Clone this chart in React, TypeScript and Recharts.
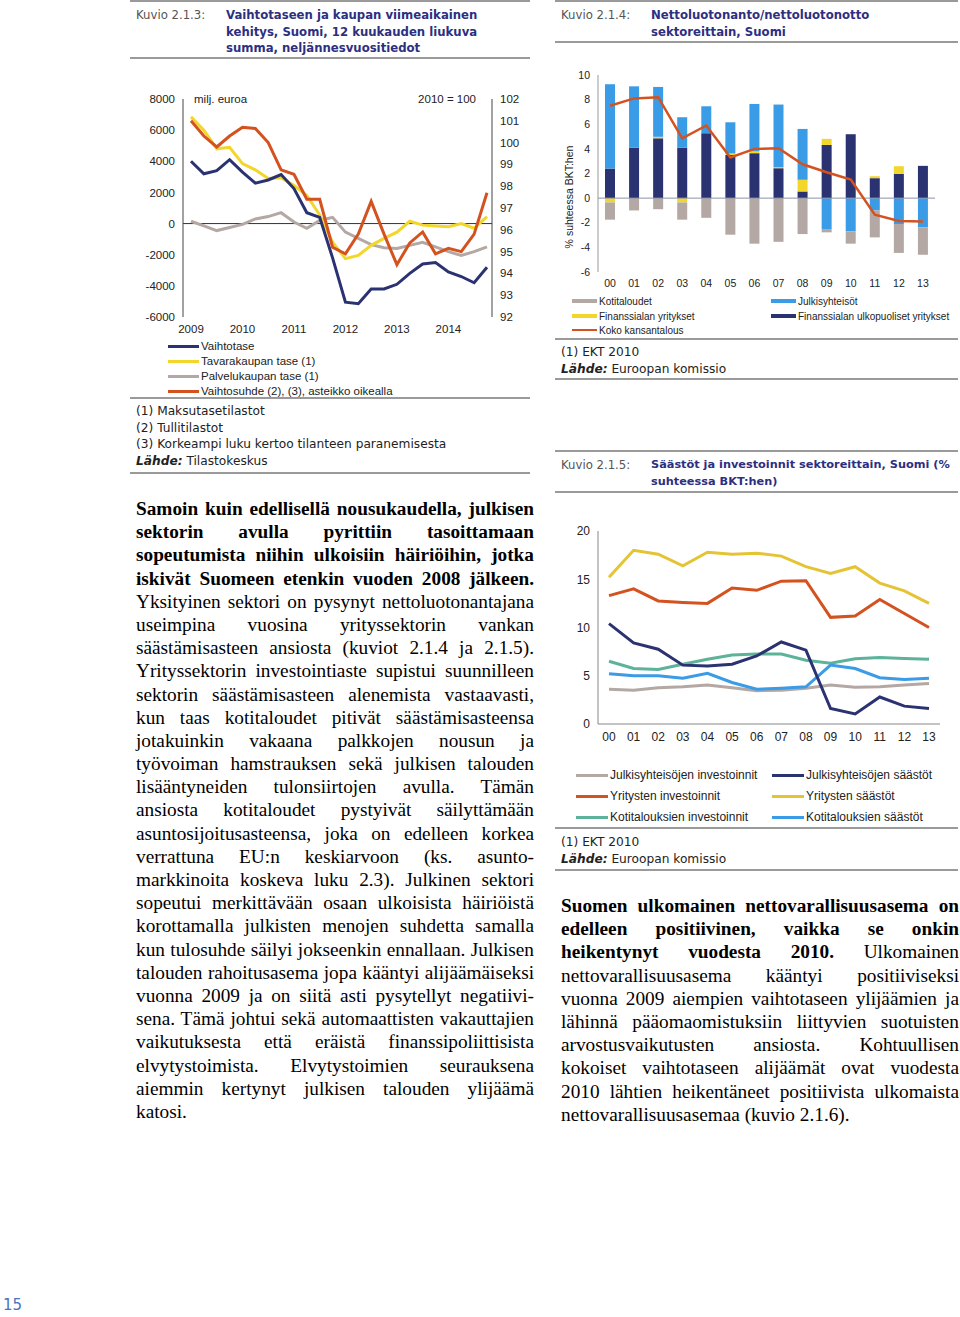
import React from 'react'
import { LineChart, ComposedChart, Line, Bar, XAxis, YAxis, ReferenceLine } from 'recharts'

// Kuvio 2.1.3 — quarterly, 12 month rolling sums
const QUARTERS = [
  '2009Q1', '2009Q2', '2009Q3', '2009Q4', '2010Q1', '2010Q2', '2010Q3', '2010Q4',
  '2011Q1', '2011Q2', '2011Q3', '2011Q4', '2012Q1', '2012Q2', '2012Q3', '2012Q4',
  '2013Q1', '2013Q2', '2013Q3', '2013Q4', '2014Q1', '2014Q2', '2014Q3', '2014Q4',
]
const vaihtotase = [4000, 3200, 3400, 4100, 3300, 2600, 2800, 3150, 2250, 700, 400, -2200, -5050, -5150, -4200, -4200, -3900, -3200, -2600, -2500, -3100, -3400, -3800, -2800]
const tavarakauppa = [6850, 6000, 4800, 4900, 3850, 3450, 2900, 2950, 2450, 1800, 550, -1200, -2250, -2050, -1400, -950, -550, 150, -100, -150, -200, 0, -300, 450]
const palvelukauppa = [150, -150, -450, -250, -50, 300, 450, 700, 100, -300, 200, 400, -550, -950, -1350, -1550, -1600, -1400, -1200, -1500, -1800, -2050, -1800, -1500]
const vaihtosuhde = [101.0, 100.3, 99.8, 100.3, 100.7, 100.65, 100.0, 98.75, 98.55, 97.4, 97.4, 95.2, 94.9, 95.8, 97.3, 95.8, 94.4, 95.4, 95.9, 94.9, 95.15, 95.0, 95.8, 97.7]
const leftTicks = [-6000, -4000, -2000, 0, 2000, 4000, 6000, 8000]
const rightTicks = [92, 93, 94, 95, 96, 97, 98, 99, 100, 101, 102]

// Kuvio 2.1.4 — net lending by sector, % of GDP
const YEARS = ['00', '01', '02', '03', '04', '05', '06', '07', '08', '09', '10', '11', '12', '13']
const ulkopuoliset = [2.4, 4.1, 4.86, 4.1, 5.27, 3.5, 3.65, 2.43, 0.54, 4.32, 5.19, 1.62, 1.97, 2.62]
const finanssiala = [-0.35, 0, 0.12, -0.35, 0, 0.13, 0.15, 0.08, 0.95, 0.49, 0, 0.16, 0.62, 0]
const julkisyhteisot = [6.85, 4.98, 4.05, 2.47, 2.19, 2.53, 3.85, 5.09, 4.13, -2.51, -2.7, -1.0, -2.1, -2.38]
const kotitaloudet = [-1.4, -1.0, -0.9, -1.4, -1.6, -2.97, -3.7, -3.55, -2.92, -0.27, -1.0, -2.19, -2.35, -2.22]
const kokoKansantalous = [7.5, 8.1, 8.2, 4.86, 5.9, 3.3, 4.0, 4.05, 2.75, 2.1, 1.5, -1.35, -1.85, -1.9]
const barTicks = [-6, -4, -2, 0, 2, 4, 6, 8, 10]

// Kuvio 2.1.5 — savings and investment by sector, % of GDP
const julkInvest = [3.6, 3.5, 3.75, 3.85, 4.05, 3.75, 3.45, 3.5, 3.7, 4.05, 3.8, 3.85, 4.05, 4.2]
const julkSaastot = [10.4, 8.4, 7.75, 6.1, 6.0, 6.2, 7.05, 8.5, 7.65, 1.6, 1.05, 2.8, 1.85, 1.6]
const yritInvest = [13.3, 14.0, 12.75, 12.6, 12.5, 14.1, 13.85, 14.8, 14.85, 11.05, 11.2, 12.9, 11.45, 10.0]
const yritSaastot = [15.2, 18.0, 17.6, 16.4, 17.8, 17.6, 17.7, 17.4, 16.3, 15.6, 16.3, 14.6, 13.8, 12.5]
const kotiInvest = [6.5, 5.75, 5.65, 6.2, 6.7, 7.15, 7.25, 7.25, 6.6, 6.3, 6.75, 6.9, 6.8, 6.7]
const kotiSaastot = [5.2, 5.0, 5.0, 4.75, 5.25, 4.3, 3.6, 3.7, 3.85, 6.1, 5.75, 4.8, 4.6, 4.75]
const lineTicks = [0, 5, 10, 15, 20]

const NAVY = '#2b3272'
const YELLOW = '#f2d62a'
const GRAY = '#b3a8a4'
const ORANGE = '#d4521f'
const BLUE = '#3a9be6'
const TEAL = '#5cb39a'
const MUSTARD = '#e4c435'
const TITLE = '#2d2f80'
const RULE = '#9a9a9a'

const SANS = '"Liberation Sans", Arial, sans-serif'
const GOTHIC = '"DejaVu Sans", sans-serif'
const SERIF = '"Liberation Serif", "Times New Roman", serif'

const leftPara = [
  { b: 'Samoin kuin edellisellä nousukaudella, julkisen' },
  { b: 'sektorin avulla pyrittiin tasoittamaan' },
  { b: 'sopeutumista niihin ulkoisiin häiriöihin, jotka' },
  { b: 'iskivät Suomeen etenkin vuoden 2008 jälkeen.' },
  { t: 'Yksityinen sektori on pysynyt nettoluotonantajana' },
  { t: 'useimpina vuosina yrityssektorin vankan' },
  { t: 'säästämisasteen ansiosta (kuviot 2.1.4 ja 2.1.5).' },
  { t: 'Yrityssektorin investointiaste supistui suunnilleen' },
  { t: 'sektorin säästämisasteen alenemista vastaavasti,' },
  { t: 'kun taas kotitaloudet pitivät säästämisasteensa' },
  { t: 'jotakuinkin vakaana palkkojen nousun ja' },
  { t: 'työvoiman hamstrauksen sekä julkisen talouden' },
  { t: 'lisääntyneiden tulonsiirtojen avulla. Tämän' },
  { t: 'ansiosta kotitaloudet pystyivät säilyttämään' },
  { t: 'asuntosijoitusasteensa, joka on edelleen korkea' },
  { t: 'verrattuna EU:n keskiarvoon (ks. asunto-' },
  { t: 'markkinoita koskeva luku 2.3). Julkinen sektori' },
  { t: 'sopeutui merkittävään osaan ulkoisista häiriöistä' },
  { t: 'korottamalla julkisten menojen suhdetta samalla' },
  { t: 'kun tulosuhde säilyi jokseenkin ennallaan. Julkisen' },
  { t: 'talouden rahoitusasema jopa kääntyi alijäämäiseksi' },
  { t: 'vuonna 2009 ja on siitä asti pysytellyt negatiivi-' },
  { t: 'sena. Tämä johtui sekä automaattisten vakauttajien' },
  { t: 'vaikutuksesta että eräistä finanssipoliittisista' },
  { t: 'elvytystoimista. Elvytystoimien seurauksena' },
  { t: 'aiemmin kertynyt julkisen talouden ylijäämä' },
  { t: 'katosi.' },
]

const rightPara = [
  { b: 'Suomen ulkomainen nettovarallisuusasema on' },
  { b: 'edelleen positiivinen, vaikka se onkin' },
  { b: 'heikentynyt vuodesta 2010.', t: 'Ulkomainen' },
  { t: 'nettovarallisuusasema kääntyi positiiviseksi' },
  { t: 'vuonna 2009 aiempien vaihtotaseen ylijäämien ja' },
  { t: 'lähinnä pääomaomistuksiin liittyvien suotuisten' },
  { t: 'arvostusvaikutusten ansiosta. Kohtuullisen' },
  { t: 'kokoiset vaihtotaseen alijäämät ovat vuodesta' },
  { t: '2010 lähtien heikentäneet positiivista ulkomaista' },
  { t: 'nettovarallisuusasemaa (kuvio 2.1.6).' },
]

const Rule = ({ left, top, width }: any) => (
  <div style={{ position: 'absolute', left, top, width, height: 2, background: RULE }} />
)

const Header = ({ left, top, bottom, width, num, lines, size = 11.7 }: any) => (
  <>
    <Rule left={left} top={top} width={width} />
    <div style={{ position: 'absolute', left: left + 6, top: top + 7, fontFamily: GOTHIC, fontSize: 11.7, lineHeight: '16.5px', color: '#555' }}>
      {num}
    </div>
    <div style={{ position: 'absolute', left: left + 96, top: top + 7, fontFamily: GOTHIC, fontSize: size, lineHeight: '16.5px', color: TITLE, fontWeight: 'bold', whiteSpace: 'nowrap' }}>
      {lines.map((l: string, i: number) => <div key={i}>{l}</div>)}
    </div>
    <Rule left={left} top={bottom} width={width} />
  </>
)

const Notes = ({ left, top, lines, source }: any) => (
  <div style={{ position: 'absolute', left, top, fontFamily: GOTHIC, fontSize: 12.2, lineHeight: '16.5px', color: '#222', whiteSpace: 'nowrap' }}>
    {lines.map((l: string, i: number) => <div key={i}>{l}</div>)}
    <div><b><i>Lähde:</i></b> {source}</div>
  </div>
)

const LegendItem = ({ left, top, color, label, thick, len, fontSize }: any) => (
  <div style={{ position: 'absolute', left, top, height: 14, display: 'flex', alignItems: 'center', fontFamily: SANS, fontSize, color: '#222', whiteSpace: 'nowrap' }}>
    <span style={{ display: 'inline-block', width: len, height: thick, background: color, marginRight: 2 }} />
    {label}
  </div>
)

const Justified = ({ lines, left, top }: any) => (
  <div style={{ position: 'absolute', left, top, width: 398, fontFamily: SERIF, fontSize: 19.3, lineHeight: '23.2px', color: '#000' }}>
    {lines.map((ln: any, i: number) => (
      <div
        key={i}
        style={{ height: 23.2, whiteSpace: 'nowrap', textAlign: 'justify', textAlignLast: i === lines.length - 1 ? 'left' : 'justify' } as any}
      >
        {ln.b ? <b>{ln.b}</b> : null}
        {ln.b && ln.t ? ' ' : ''}
        {ln.t || ''}
      </div>
    ))}
  </div>
)

export default function App() {
  const chart1Data = QUARTERS.map((q, i) => ({
    q,
    vaihtotase: vaihtotase[i],
    tavara: tavarakauppa[i],
    palvelu: palvelukauppa[i],
    suhde: vaihtosuhde[i],
  }))

  const chart2Data = YEARS.map((y, i) => ({
    y,
    ulko: ulkopuoliset[i],
    fin: finanssiala[i],
    julk: julkisyhteisot[i],
    koti: kotitaloudet[i],
    koko: kokoKansantalous[i],
  }))

  const chart3Data = YEARS.map((y, i) => ({
    y,
    julkInv: julkInvest[i],
    julkSaa: julkSaastot[i],
    yritInv: yritInvest[i],
    yritSaa: yritSaastot[i],
    kotiInv: kotiInvest[i],
    kotiSaa: kotiSaastot[i],
  }))

  const tick1 = { fontSize: 11.5, fill: '#222', fontFamily: SANS }
  const tick2 = { fontSize: 10.5, fill: '#222', fontFamily: SANS }
  const tick3 = { fontSize: 12, fill: '#222', fontFamily: SANS }

  return (
    <div style={{ position: 'absolute', left: 0, top: 0, width: 960, height: 1317, background: '#fff', overflow: 'hidden' }}>
      {/* ---------- Kuvio 2.1.3 ---------- */}
      <Header
        left={130} top={0} bottom={57} width={400} num="Kuvio 2.1.3:"
        lines={['Vaihtotaseen ja kaupan viimeaikainen', 'kehitys, Suomi, 12 kuukauden liukuva', 'summa, neljännesvuositiedot']}
      />
      <div style={{ position: 'absolute', left: 130, top: 85 }}>
        <LineChart width={400} height={255} data={chart1Data} margin={{ top: 14, right: 3, left: 8, bottom: 3 }} style={{ fontFamily: SANS }}>
          <XAxis dataKey="q" interval={3} tickFormatter={(v: string) => v.slice(0, 4)} axisLine={false} tickLine={false} padding={{ left: 8, right: 5 }} height={20} tick={tick1} />
          <YAxis yAxisId="l" domain={[-6000, 8000]} ticks={leftTicks} interval={0} width={45} axisLine={{ stroke: '#444' }} tickLine={false} tick={tick1} />
          <YAxis yAxisId="r" orientation="right" domain={[92, 102]} ticks={rightTicks} interval={0} width={35} axisLine={{ stroke: '#444' }} tickLine={false} tick={tick1} />
          <ReferenceLine yAxisId="l" y={0} stroke="#333" strokeWidth={1} />
          <Line yAxisId="l" dataKey="palvelu" stroke={GRAY} strokeWidth={3} dot={false} isAnimationActive={false} />
          <Line yAxisId="l" dataKey="tavara" stroke={YELLOW} strokeWidth={3} dot={false} isAnimationActive={false} />
          <Line yAxisId="l" dataKey="vaihtotase" stroke={NAVY} strokeWidth={3} dot={false} isAnimationActive={false} />
          <Line yAxisId="r" dataKey="suhde" stroke={ORANGE} strokeWidth={3} dot={false} isAnimationActive={false} />
        </LineChart>
      </div>
      <div style={{ position: 'absolute', left: 194, top: 93, fontFamily: SANS, fontSize: 11.5, color: '#222' }}>milj. euroa</div>
      <div style={{ position: 'absolute', left: 376, width: 100, textAlign: 'right', top: 93, fontFamily: SANS, fontSize: 11.5, color: '#222' }}>2010 = 100</div>
      <LegendItem left={168} top={339} color={NAVY} label="Vaihtotase" thick={3} len={31} fontSize={11.5} />
      <LegendItem left={168} top={354} color={YELLOW} label="Tavarakaupan tase (1)" thick={3} len={31} fontSize={11.5} />
      <LegendItem left={168} top={369} color={GRAY} label="Palvelukaupan tase (1)" thick={3} len={31} fontSize={11.5} />
      <LegendItem left={168} top={384} color={ORANGE} label="Vaihtosuhde (2), (3), asteikko oikealla" thick={3} len={31} fontSize={11.5} />
      <Rule left={130} top={397} width={400} />
      <Notes left={136} top={403} lines={['(1) Maksutasetilastot', '(2) Tullitilastot', '(3) Korkeampi luku kertoo tilanteen paranemisesta']} source="Tilastokeskus" />
      <Rule left={130} top={472} width={400} />

      <Justified lines={leftPara} left={136} top={497} />

      {/* ---------- Kuvio 2.1.4 ---------- */}
      <Header
        left={555} top={0} bottom={41} width={403} num="Kuvio 2.1.4:"
        lines={['Nettoluotonanto/nettoluotonotto', 'sektoreittain, Suomi']}
      />
      <div style={{ position: 'absolute', left: 555, top: 65 }}>
        <ComposedChart width={400} height={225} data={chart2Data} stackOffset="sign" margin={{ top: 10, right: 20, left: 5, bottom: 0 }} style={{ fontFamily: SANS }}>
          <XAxis dataKey="y" axisLine={false} tickLine={false} height={18} tick={tick2} interval={0} />
          <YAxis domain={[-6, 10]} ticks={barTicks} interval={0} width={38} axisLine={{ stroke: '#999' }} tickLine={false} tick={tick2} />
          <ReferenceLine y={0} stroke="#8d93a8" strokeWidth={1} />
          <Bar dataKey="ulko" stackId="s" fill={NAVY} barSize={10} isAnimationActive={false} />
          <Bar dataKey="fin" stackId="s" fill={YELLOW} barSize={10} isAnimationActive={false} />
          <Bar dataKey="julk" stackId="s" fill={BLUE} barSize={10} isAnimationActive={false} />
          <Bar dataKey="koti" stackId="s" fill={GRAY} barSize={10} isAnimationActive={false} />
          <Line dataKey="koko" stroke={ORANGE} strokeWidth={2.5} dot={false} isAnimationActive={false} />
        </ComposedChart>
      </div>
      <div style={{ position: 'absolute', left: 499, top: 191, width: 140, height: 12, lineHeight: '12px', textAlign: 'center', transform: 'rotate(-90deg)', fontFamily: SANS, fontSize: 10.5, color: '#222' }}>
        % suhteessa BKT:hen
      </div>
      <LegendItem left={572} top={294} color={GRAY} label="Kotitaloudet" thick={4} len={25} fontSize={10} />
      <LegendItem left={572} top={309} color={YELLOW} label="Finanssialan yritykset" thick={4} len={25} fontSize={10} />
      <LegendItem left={572} top={323} color={ORANGE} label="Koko kansantalous" thick={2} len={25} fontSize={10} />
      <LegendItem left={771} top={294} color={BLUE} label="Julkisyhteisöt" thick={4} len={25} fontSize={10} />
      <LegendItem left={771} top={309} color={NAVY} label="Finanssialan ulkopuoliset yritykset" thick={4} len={25} fontSize={10} />
      <Rule left={555} top={338} width={403} />
      <Notes left={561} top={344} lines={['(1) EKT 2010']} source="Euroopan komissio" />
      <Rule left={555} top={378} width={403} />

      {/* ---------- Kuvio 2.1.5 ---------- */}
      <Header
        left={555} top={450} bottom={491} width={403} num="Kuvio 2.1.5:" size={11.3}
        lines={['Säästöt ja investoinnit sektoreittain, Suomi (%', 'suhteessa BKT:hen)']}
      />
      <div style={{ position: 'absolute', left: 555, top: 515 }}>
        <LineChart width={400} height={240} data={chart3Data} margin={{ top: 16, right: 15, left: 5, bottom: 0 }} style={{ fontFamily: SANS }}>
          <XAxis dataKey="y" axisLine={{ stroke: '#888' }} tickLine={false} padding={{ left: 11, right: 11 }} height={31} tick={tick3} interval={0} />
          <YAxis domain={[0, 20]} ticks={lineTicks} interval={0} width={38} axisLine={{ stroke: '#888' }} tickLine={false} tick={tick3} />
          <Line dataKey="julkInv" stroke={GRAY} strokeWidth={3} dot={false} isAnimationActive={false} />
          <Line dataKey="kotiInv" stroke={TEAL} strokeWidth={3} dot={false} isAnimationActive={false} />
          <Line dataKey="kotiSaa" stroke={BLUE} strokeWidth={3} dot={false} isAnimationActive={false} />
          <Line dataKey="julkSaa" stroke={NAVY} strokeWidth={3} dot={false} isAnimationActive={false} />
          <Line dataKey="yritInv" stroke={ORANGE} strokeWidth={3} dot={false} isAnimationActive={false} />
          <Line dataKey="yritSaa" stroke={MUSTARD} strokeWidth={3} dot={false} isAnimationActive={false} />
        </LineChart>
      </div>
      <LegendItem left={576} top={768} color={GRAY} label="Julkisyhteisöjen investoinnit" thick={3} len={32} fontSize={12} />
      <LegendItem left={576} top={789} color={ORANGE} label="Yritysten investoinnit" thick={3} len={32} fontSize={12} />
      <LegendItem left={576} top={810} color={TEAL} label="Kotitalouksien investoinnit" thick={3} len={32} fontSize={12} />
      <LegendItem left={772} top={768} color={NAVY} label="Julkisyhteisöjen säästöt" thick={3} len={32} fontSize={12} />
      <LegendItem left={772} top={789} color={MUSTARD} label="Yritysten säästöt" thick={3} len={32} fontSize={12} />
      <LegendItem left={772} top={810} color={BLUE} label="Kotitalouksien säästöt" thick={3} len={32} fontSize={12} />
      <Rule left={555} top={827} width={403} />
      <Notes left={561} top={834} lines={['(1) EKT 2010']} source="Euroopan komissio" />
      <Rule left={555} top={869} width={403} />

      <Justified lines={rightPara} left={561} top={894} />

      <div style={{ position: 'absolute', left: 3, top: 1296, fontFamily: GOTHIC, fontSize: 15, color: '#4a73b8' }}>15</div>
    </div>
  )
}
